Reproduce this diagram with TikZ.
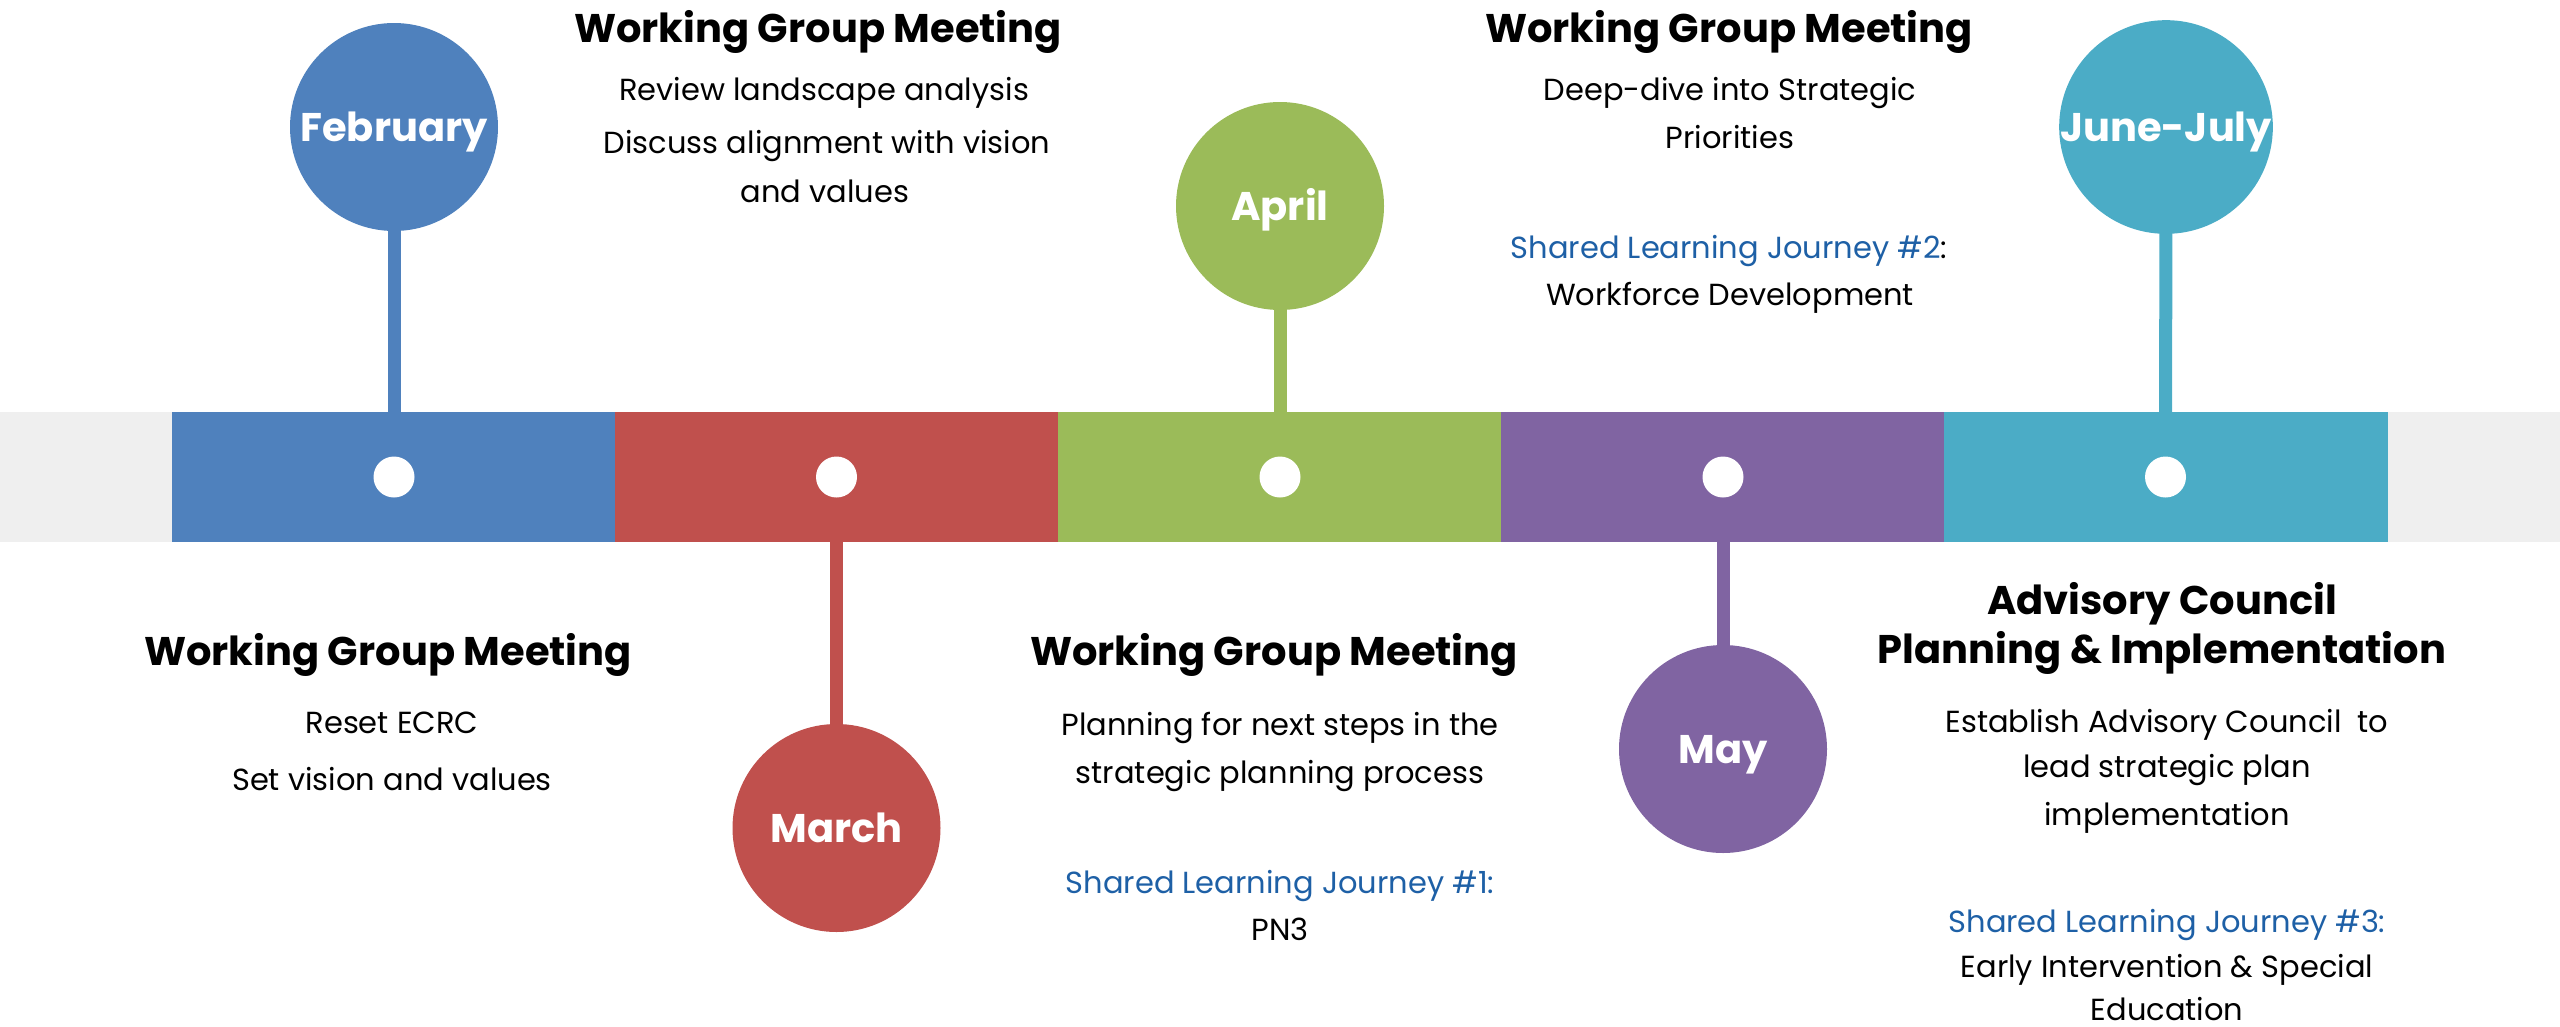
\documentclass[tikz,border=0pt]{standalone}
\usepackage{fontspec}
\setmainfont{Poppins}
\usetikzlibrary{backgrounds}
\definecolor{cblue}{HTML}{4F81BD}
\definecolor{cred}{HTML}{C0504D}
\definecolor{cgreen}{HTML}{9BBB59}
\definecolor{cpurple}{HTML}{8064A2}
\definecolor{cteal}{HTML}{4BACC6}
\definecolor{bandgray}{HTML}{EFEFEF}
\definecolor{sljblue}{RGB}{30,96,166}
\begin{document}
\begin{tikzpicture}[x=1pt,y=-1pt,
  seg/.style={rectangle, minimum width=444pt, minimum height=130pt, inner sep=0pt, fill=#1},
  dotw/.style={circle, fill=white, minimum size=41pt, inner sep=0pt},
  month/.style={circle, fill=#1, minimum size=208pt, inner sep=0pt, text=white,
    font=\fontsize{40}{48}\selectfont\bfseries, text height=28.5pt, text depth=0pt},
  stem/.style={draw=#1, line width=13pt},
  head/.style={anchor=base, inner sep=0pt, font=\fontsize{40}{48}\selectfont\bfseries},
  body/.style={anchor=base, inner sep=0pt, font=\fontsize{30.5}{40}\selectfont},
  slj/.style={body, text=sljblue}]
\useasboundingbox (0,0) rectangle (2560,1026);

% timeline segments
\node[seg=cblue]   (s1) at (394,477)    {};
\node[seg=cred]    (s2) at (836.5,477)  {};
\node[seg=cgreen]  (s3) at (1280,477)   {};
\node[seg=cpurple] (s4) at (1723,477)   {};
\node[seg=cteal]   (s5) at (2165.5,477) {};

% month circles
\node[month=cblue]   (feb) at (394,127)   {February};
\node[month=cred]    (mar) at (836.5,828) {March};
\node[month=cgreen]  (apr) at (1280,206)  {April};
\node[month=cpurple] (may) at (1723,749)  {May};
\node[month=cteal]   (jun) at (2166,127)  {June-July};

% white dots
\node[dotw] (d1) at (s1.center) {};
\node[dotw] (d2) at (s2.center) {};
\node[dotw] (d3) at (s3.center) {};
\node[dotw] (d4) at (s4.center) {};
\node[dotw] (d5) at (s5.center) {};

\begin{pgfonlayer}{background}
  \fill[bandgray] (0,412) rectangle (2560,542);
  \draw[stem=cblue]   (feb.center) -- (s1.center);
  \draw[stem=cred]    (mar.center) -- (s2.center);
  \draw[stem=cgreen]  (apr.center) -- (s3.center);
  \draw[stem=cpurple] (may.center) -- (s4.center);
  \draw[stem=cteal]   (jun.center) -- (s5.center);
\end{pgfonlayer}

% top left
\node[head] (h1)  at (818,42)  {Working Group Meeting};
\node[body] (t1a) at (824,100) {Review landscape analysis};
\node[body] (t1b) at (827,153) {Discuss alignment with vision};
\node[body] (t1c) at (825,202) {and values};

% top right
\node[head] (h2)  at (1729,42)  {Working Group Meeting};
\node[body] (t2a) at (1730,100) {Deep-dive into Strategic};
\node[body] (t2b) at (1730,148) {Priorities};
\node[slj]  (t2c) at (1729,258) {Shared Learning Journey \#2\textcolor{black}{:}};
\node[body] (t2d) at (1730,305) {Workforce Development};

% bottom left
\node[head] (h3)  at (388,665) {Working Group Meeting};
\node[body] (t3a) at (392,733) {Reset ECRC};
\node[body] (t3b) at (392,790) {Set vision and values};

% bottom middle
\node[head] (h4)  at (1274,665) {Working Group Meeting};
\node[body] (t4a) at (1280,735) {Planning for next steps in the};
\node[body] (t4b) at (1280,783) {strategic planning process};
\node[slj]  (t4c) at (1280,893) {Shared Learning Journey \#1:};
\node[body] (t4d) at (1280,940) {PN3};

% bottom right
\node[head] (h5a) at (2162,614) {Advisory Council};
\node[head] (h5b) at (2162,663) {Planning \& Implementation};
\node[body] (t5a) at (2167,732) {Establish Advisory Council\ \ to};
\node[body] (t5b) at (2167,777) {lead strategic plan};
\node[body] (t5c) at (2167,825) {implementation};
\node[slj]  (t5d) at (2167,932) {Shared Learning Journey \#3:};
\node[body] (t5e) at (2167,977) {Early Intervention \& Special};
\node[body] (t5f) at (2167,1020) {Education};
\end{tikzpicture}
\end{document}
